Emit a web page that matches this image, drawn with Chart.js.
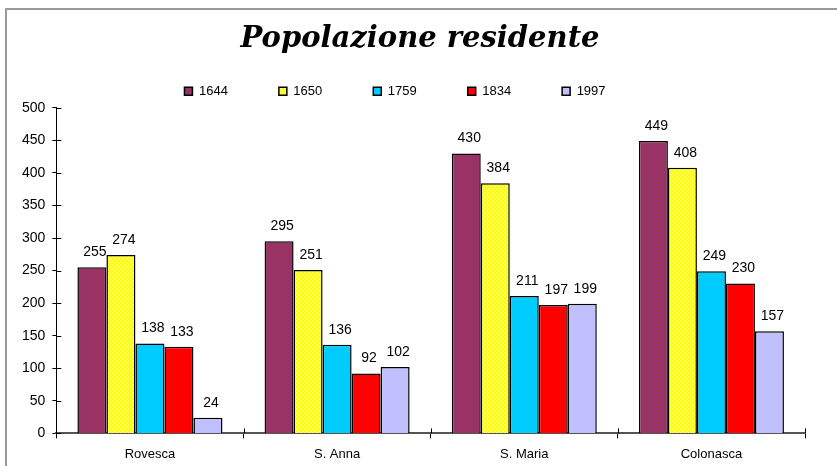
<!DOCTYPE html>
<html>
<head>
<meta charset="utf-8">
<script src="https://cdn.jsdelivr.net/npm/chart.js@4.4.1/dist/chart.umd.min.js"></script>
<style>
  html, body { margin: 0; padding: 0; background: #ffffff; }
  #wrap { position: relative; width: 837px; height: 466px; overflow: hidden; }
  #frame { position: absolute; left: 5px; top: 8px; width: 900px; height: 600px;
           border-left: 2px solid #9a9a9a; border-top: 2px solid #9a9a9a; }
  #c { position: absolute; left: 0; top: 0; }
</style>
</head>
<body>
<div id="wrap">
  <div id="frame"></div>
  <canvas id="c" width="837" height="466"></canvas>
</div>
<script>
const titleText = 'Popolazione residente';
const categories = ['Rovesca', 'S. Anna', 'S. Maria', 'Colonasca'];
const seriesNames = ['1644', '1650', '1759', '1834', '1997'];
const values1644 = [255, 295, 430, 449];
const values1650 = [274, 251, 384, 408];
const values1759 = [138, 136, 211, 249];
const values1834 = [133, 92, 197, 230];
const values1997 = [24, 102, 199, 157];
const yTicks = [0, 50, 100, 150, 200, 250, 300, 350, 400, 450, 500];

function hatchPattern() {
  const t = document.createElement('canvas');
  t.width = 4; t.height = 4;
  const g = t.getContext('2d');
  g.fillStyle = '#ffff00';
  g.fillRect(0, 0, 4, 4);
  g.fillStyle = '#ffffb0';
  for (let i = 0; i < 4; i++) g.fillRect(i, i, 1, 1);
  return g.createPattern(t, 'repeat');
}

const colors = ['#993366', hatchPattern(), '#00ccff', '#ff0000', '#c0c0ff'];
const seriesValues = [values1644, values1650, values1759, values1834, values1997];

const valueLabels = {
  id: 'valueLabels',
  afterDatasetsDraw(chart) {
    const ctx = chart.ctx;
    ctx.save();
    ctx.font = '14px "Liberation Sans", Arial, sans-serif';
    ctx.fillStyle = '#000';
    ctx.textAlign = 'center';
    ctx.textBaseline = 'bottom';
    chart.data.datasets.forEach((ds, i) => {
      const meta = chart.getDatasetMeta(i);
      meta.data.forEach((bar, j) => {
        ctx.fillText(String(ds.data[j]), bar.x + 3, bar.y - 8);
      });
    });
    ctx.restore();
  }
};

const crossTicks = {
  id: 'crossTicks',
  afterLayout(chart) {
    if (chart.legend) { chart.legend.left -= 15; chart.legend.right -= 15; }
    if (chart.titleBlock) { chart.titleBlock.left += 10; chart.titleBlock.right += 10; }
  },
  afterDraw(chart) {
    const ctx = chart.ctx;
    const x = chart.scales.x, y = chart.scales.y;
    ctx.save();
    ctx.strokeStyle = '#000';
    ctx.lineWidth = 1;
    ctx.beginPath();
    yTicks.forEach(v => {
      const py = Math.round(y.getPixelForValue(v)) + 0.5;
      ctx.moveTo(x.left, py); ctx.lineTo(x.left + 5, py);
    });
    const n = categories.length;
    for (let i = 0; i <= n; i++) {
      const px = Math.round(x.left + (x.right - x.left) * i / n) + 0.5;
      ctx.moveTo(px, y.bottom); ctx.lineTo(px, y.bottom - 5);
    }
    ctx.stroke();
    ctx.restore();
  }
};

new Chart(document.getElementById('c'), {
  type: 'bar',
  data: {
    labels: categories,
    datasets: seriesNames.map((name, i) => ({
      label: name,
      data: seriesValues[i],
      backgroundColor: colors[i],
      borderColor: '#000',
      borderWidth: 1.5,
      barPercentage: 1.0,
      categoryPercentage: 0.775
    }))
  },
  options: {
    responsive: false,
    animation: false,
    layout: { padding: { left: 15, right: 32, top: 0, bottom: -4 } },
    plugins: {
      tooltip: { enabled: false },
      title: {
        display: true,
        text: titleText,
        color: '#000',
        font: { family: '"DejaVu Serif", serif', size: 29, style: 'italic', weight: 'bold' },
        padding: { top: 22, bottom: -23 }
      },
      legend: {
        display: true,
        position: 'top',
        labels: {
          color: '#000',
          font: { family: '"Liberation Sans", Arial, sans-serif', size: 13 },
          boxWidth: 8,
          boxHeight: 8,
          padding: 51
        }
      }
    },
    scales: {
      x: {
        grid: { display: true, drawOnChartArea: false, drawTicks: true, tickLength: 5, color: '#000', offset: true },
        border: { display: true, color: '#555', width: 2 },
        ticks: { color: '#000', font: { family: '"Liberation Sans", Arial, sans-serif', size: 13 }, padding: 8 }
      },
      y: {
        min: 0, max: 500,
        afterBuildTicks(scale) { scale.ticks = yTicks.map(v => ({ value: v })); },
        grid: { display: true, drawOnChartArea: false, drawTicks: true, tickLength: 4, color: '#000' },
        border: { display: true, color: '#000', width: 1 },
        ticks: { color: '#000', font: { family: '"Liberation Sans", Arial, sans-serif', size: 14 }, padding: 7 }
      }
    }
  },
  plugins: [valueLabels, crossTicks]
});
</script>
</body>
</html>
